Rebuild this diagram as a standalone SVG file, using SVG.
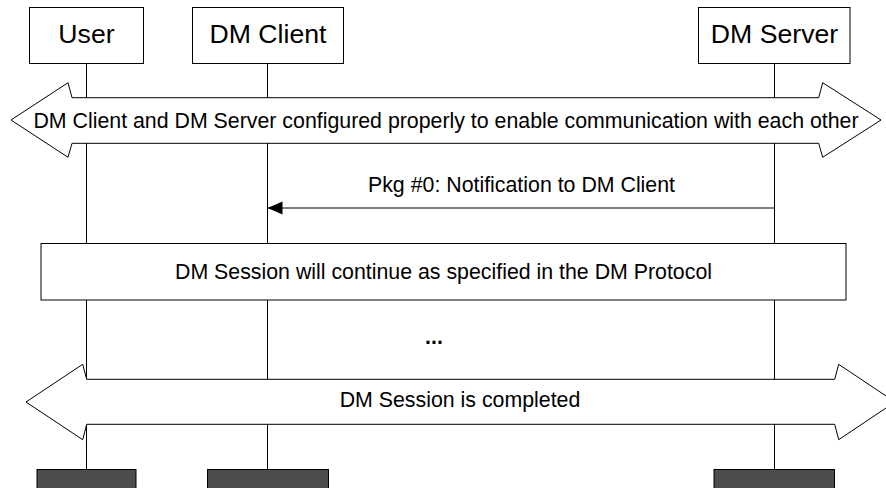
<svg xmlns="http://www.w3.org/2000/svg" width="886" height="488" viewBox="0 0 886 488">
  <style>
    .box { fill: #ffffff; stroke: #000000; stroke-width: 1; }
    .end { fill: #4d4d4d; stroke: #000000; stroke-width: 1; }
    .life { stroke: #000000; stroke-width: 1; fill: none; }
    .msg { stroke: #000000; stroke-width: 1; fill: none; }
    .hdr { font-family: "Liberation Sans", Arial, sans-serif; font-size: 26.67px; fill: #000000; text-anchor: middle; }
    .lbl { font-family: "Liberation Sans", Arial, sans-serif; font-size: 21.33px; fill: #000000; text-anchor: middle; }
  </style>
  <defs>
    <marker id="arrowhead" markerUnits="userSpaceOnUse" markerWidth="16" markerHeight="14" refX="15" refY="7" orient="auto">
      <path d="M0,0.5 L15,7 L0,13.5 Z" fill="#000000"/>
    </marker>
  </defs>
  <rect width="886" height="488" fill="#ffffff"/>

  <g id="lifelines">
    <line class="life" x1="86.5" y1="63" x2="86.5" y2="470"/>
    <line class="life" x1="267.5" y1="63" x2="267.5" y2="470"/>
    <line class="life" x1="774.5" y1="63" x2="774.5" y2="470"/>
  </g>

  <g id="node-user">
    <rect class="box" x="29.5" y="7.5" width="114" height="56"/>
    <text class="hdr" x="86.5" y="43">User</text>
    <rect class="end" x="37" y="469.5" width="99" height="30"/>
  </g>
  <g id="node-dmclient">
    <rect class="box" x="192.5" y="7.5" width="151" height="56"/>
    <text class="hdr" x="268" y="43">DM Client</text>
    <rect class="end" x="207.5" y="469.5" width="121" height="30"/>
  </g>
  <g id="node-dmserver">
    <rect class="box" x="698.5" y="7.5" width="151.5" height="56"/>
    <text class="hdr" x="774.5" y="43">DM Server</text>
    <rect class="end" x="714" y="469.5" width="120.5" height="30"/>
  </g>

  <g id="connectors">
    <line class="msg" x1="774.5" y1="208" x2="267.5" y2="208" marker-end="url(#arrowhead)"/>
  </g>
  <text class="lbl" x="521.5" y="192">Pkg #0: Notification to DM Client</text>

  <g id="banner-configured">
    <polygon class="box" points="11,120 68,82.7 72,97.7 818.7,97.7 822.7,82.7 881,120 822.7,157.3 818.7,143.3 72,143.3 68,157.3"/>
    <text class="lbl" x="446" y="127.5">DM Client and DM Server configured properly to enable communication with each other</text>
  </g>

  <g id="box-continue">
    <rect class="box" x="41" y="243.5" width="805" height="56.5"/>
    <text class="lbl" x="443.5" y="278.5">DM Session will continue as specified in the DM Protocol</text>
  </g>

  <text class="lbl" x="434" y="344" font-weight="bold">...</text>

  <g id="banner-completed">
    <polygon class="box" points="26,402 82.7,364.3 86.7,379.3 834.7,379.3 838.7,364.3 895,402 838.7,439.7 834.7,424.3 86.7,424.3 82.7,439.7"/>
    <text class="lbl" x="460" y="407">DM Session is completed</text>
  </g>
</svg>
